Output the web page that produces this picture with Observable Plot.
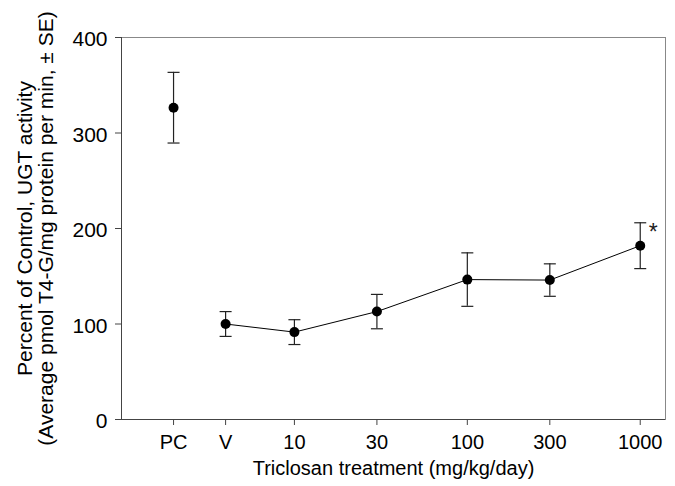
<!DOCTYPE html>
<html>
<head>
<meta charset="utf-8">
<script src="https://cdn.jsdelivr.net/npm/d3@7"></script>
<script src="https://cdn.jsdelivr.net/npm/@observablehq/plot@0.6"></script>
<style>
  html, body { margin: 0; padding: 0; background: white; }
</style>
</head>
<body>
<div id="chart"></div>
<script>
const labels = ["PC", "V", "10", "30", "100", "300", "1000"];
const xPos = [2, 4, 10, 30, 100, 300, 1000];
const means = [326.5, 100, 91.5, 113, 146.5, 146, 182];
const ses = [37, 13, 13, 18, 28, 17, 24];
const yTicks = [0, 100, 200, 300, 400];
const sigLabel = "1000";

const data = labels.map((l, i) => ({label: l, x: xPos[i], y: means[i], lo: means[i] - ses[i], hi: means[i] + ses[i]}));
const lineData = data.filter(d => d.label !== "PC");
const sig = data.filter(d => d.label === sigLabel);

const cap = {
  draw(context, size) {
    const w = 6;
    context.moveTo(-w, 0);
    context.lineTo(w, 0);
  }
};

const chart = Plot.plot({
  width: 675,
  height: 486,
  marginLeft: 121,
  marginRight: 10,
  marginTop: 37,
  marginBottom: 67,
  style: {fontFamily: "'Liberation Sans', Arial, sans-serif", fontSize: "20px", background: "white", color: "black"},
  x: {type: "log", domain: [1, 1400]},
  y: {domain: [0, 400]},
  marks: [
    Plot.frame({stroke: "#888"}),
    Plot.ruleY([0], {stroke: "#444"}),
    Plot.ruleX([1], {stroke: "#444"}),
    Plot.axisY(yTicks, {ticks: Infinity, tickSize: 6, tickPadding: 8, stroke: "#444",
      label: "Percent of Control, UGT activity\n(Average pmol T4-G/mg protein per min, ± SE)",
      labelAnchor: "center", labelArrow: "none", labelOffset: 104, lineHeight: 1.28, fontSize: 21}),
    Plot.axisX(xPos, {ticks: Infinity, tickFormat: (d) => labels[xPos.indexOf(d)], tickSize: 6, tickPadding: 9, stroke: "#444",
      label: "Triclosan treatment (mg/kg/day)", labelAnchor: "center", labelArrow: "none", labelOffset: 55}),
    Plot.ruleX(data, {x: "x", y1: "lo", y2: "hi", stroke: "#222", strokeWidth: 1.2}),
    Plot.dot(data, {x: "x", y: "lo", symbol: cap, stroke: "#222", strokeWidth: 1.2, r: 5}),
    Plot.dot(data, {x: "x", y: "hi", symbol: cap, stroke: "#222", strokeWidth: 1.2, r: 5}),
    Plot.line(lineData, {x: "x", y: "y", stroke: "black", strokeWidth: 1}),
    Plot.dot(data, {x: "x", y: "y", r: 5, fill: "black", stroke: "none"}),
    Plot.text(sig, {x: "x", y: "hi", text: () => "*", dx: 13, dy: 10, fontSize: 23, fill: "#222"})
  ]
});
document.getElementById("chart").appendChild(chart);
</script>
</body>
</html>
